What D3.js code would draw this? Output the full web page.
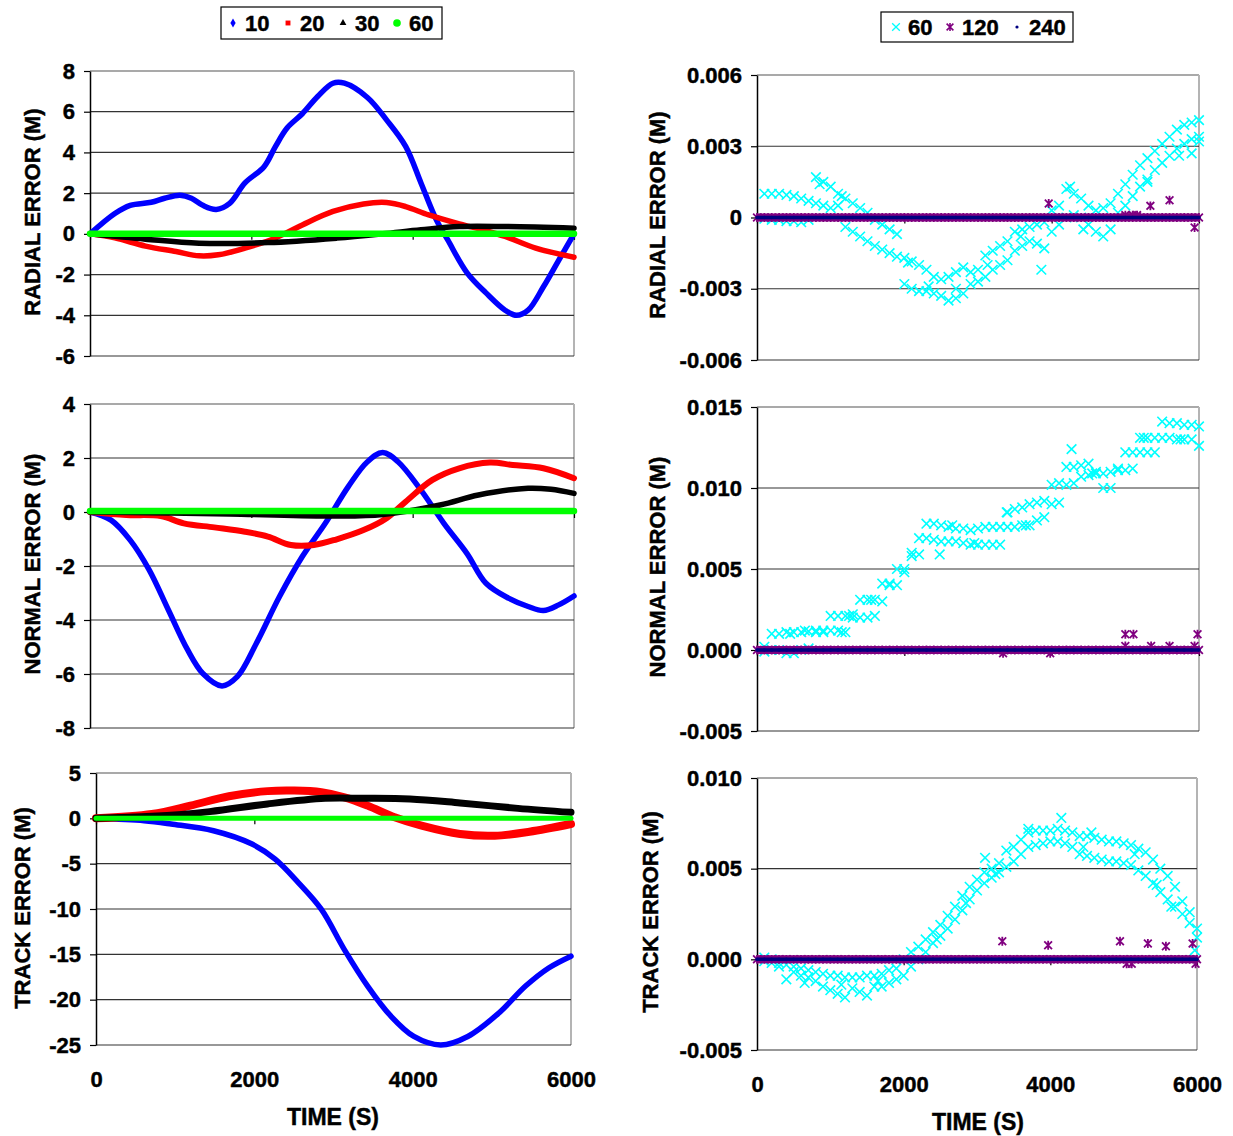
<!DOCTYPE html>
<html><head><meta charset="utf-8">
<script src="https://cdn.jsdelivr.net/npm/d3@7"></script>
<style>
body{margin:0;background:#fff}
svg{display:block}
text{font-family:"Liberation Sans",Arial,sans-serif;font-weight:bold;fill:#000;stroke:#000;stroke-width:0.45px}
</style>
</head><body>
<svg id="c" width="1233" height="1136"></svg>
<script>
// ---------------- DATA ----------------
const timeTicks = [0, 2000, 4000, 6000];
const timeTickLabels = ["0", "2000", "4000", "6000"];
const legendLeft = ["10", "20", "30", "60"];
const legendRight = ["60", "120", "240"];

const radialTicks = [-6, -4, -2, 0, 2, 4, 6, 8];
const radialTickLabels = ["-6", "-4", "-2", "0", "2", "4", "6", "8"];
const normalTicks = [-8, -6, -4, -2, 0, 2, 4];
const normalTickLabels = ["-8", "-6", "-4", "-2", "0", "2", "4"];
const trackTicks = [-25, -20, -15, -10, -5, 0, 5];
const trackTickLabels = ["-25", "-20", "-15", "-10", "-5", "0", "5"];

const radialTicksR = [-0.006, -0.003, 0, 0.003, 0.006];
const radialTickLabelsR = ["-0.006", "-0.003", "0", "0.003", "0.006"];
const normalTicksR = [-0.005, 0, 0.005, 0.010, 0.015];
const normalTickLabelsR = ["-0.005", "0.000", "0.005", "0.010", "0.015"];
const trackTicksR = [-0.005, 0, 0.005, 0.010];
const trackTickLabelsR = ["-0.005", "0.000", "0.005", "0.010"];

// left column: [time (s), error (m)]
const radial10 = [[0,0],[308,1.0],[498,1.4],[759,1.55],[925,1.75],[1115,1.9],[1257,1.75],[1399,1.4],[1565,1.2],[1731,1.5],[1921,2.5],[2158,3.3],[2300,4.3],[2443,5.2],[2632,5.9],[2822,6.75],[3012,7.4],[3154,7.4],[3439,6.7],[3676,5.6],[3913,4.3],[4103,2.5],[4292,0.7],[4435,-0.3],[4672,-1.9],[4909,-2.9],[5146,-3.75],[5289,-4.0],[5431,-3.75],[5621,-2.6],[5810,-1.3],[6000,0.0]];
const radial20 = [[0,0],[308,-0.2],[688,-0.6],[1067,-0.87],[1352,-1.08],[1589,-1.03],[1921,-0.7],[2300,-0.2],[2632,0.44],[3012,1.1],[3391,1.47],[3676,1.54],[3913,1.34],[4198,0.93],[4577,0.49],[4862,0.2],[5146,-0.13],[5526,-0.7],[6000,-1.15]];
const radial30 = [[0,0],[688,-0.26],[1352,-0.46],[2205,-0.43],[3059,-0.21],[3628,0],[4103,0.2],[4577,0.36],[5146,0.36],[6000,0.28]];
const radial60 = [[0,0],[1500,0],[3000,0],[4500,0],[6000,0]];

const normal10 = [[0,0],[261,-0.3],[498,-1.04],[735,-2.15],[972,-3.63],[1209,-5.1],[1399,-5.98],[1636,-6.44],[1826,-6.1],[2063,-4.86],[2348,-3.14],[2632,-1.65],[2917,-0.42],[3202,0.94],[3439,1.86],[3628,2.2],[3818,1.86],[4103,0.81],[4387,-0.42],[4672,-1.53],[4909,-2.64],[5194,-3.2],[5431,-3.5],[5621,-3.65],[5810,-3.44],[6000,-3.11]];
const normal20 = [[0,0],[450,-0.11],[877,-0.15],[1162,-0.42],[1541,-0.57],[1921,-0.73],[2205,-0.91],[2490,-1.22],[2775,-1.22],[3059,-1.01],[3391,-0.67],[3676,-0.23],[3913,0.38],[4245,1.19],[4577,1.62],[4957,1.83],[5241,1.74],[5621,1.62],[6000,1.25]];
const normal30 = [[0,0],[1731,-0.07],[3059,-0.15],[3628,-0.09],[4340,0.26],[4815,0.63],[5431,0.88],[5715,0.84],[6000,0.69]];
const normal60 = [[0,0.04],[1500,0.04],[3000,0.04],[4500,0.04],[6000,0.04]];

const track10 = [[0,0],[608,-0.26],[949,-0.63],[1484,-1.37],[1971,-2.84],[2263,-4.5],[2555,-7.08],[2847,-10.04],[3139,-14.5],[3431,-18.5],[3723,-21.8],[4015,-24.06],[4355,-25],[4696,-24.06],[5085,-21.5],[5426,-18.5],[5718,-16.5],[6000,-15.2]];
const track20 = [[0,0],[706,0.48],[1192,1.4],[1679,2.44],[2166,3.0],[2506,3.06],[2847,2.88],[3139,2.32],[3431,1.4],[3772,0.11],[4112,-0.81],[4599,-1.73],[5037,-1.92],[5475,-1.48],[6000,-0.63]];
const track30 = [[0,0],[706,0.22],[1436,0.74],[2166,1.59],[2896,2.21],[3382,2.21],[3966,2.14],[4599,1.7],[5329,1.1],[6000,0.66]];
const track60 = [[0,0],[1500,0],[3000,0],[4500,0],[6000,0]];

// right column: sample times (s)
const sampleTimes = [0,100,200,300,400,500,600,700,800,900,1000,1100,1200,1300,1400,1500,1600,1700,1800,1900,2000,2100,2200,2300,2400,2500,2600,2700,2800,2900,3000,3100,3200,3300,3400,3500,3600,3700,3800,3900,4000,4100,4200,4300,4400,4500,4600,4700,4800,4900,5000,5100,5200,5300,5400,5500,5600,5700,5800,5900,6000];

// series "60" (cyan) – two interleaved bands of points
const radial60BandA = [null,.0010,.0010,.0010,.00095,.0009,.0008,.0007,.0017,.0015,.0013,.0010,.0008,.0006,.0004,.0002,-.0001,-.0003,-.0005,-.0007,-.0017,-.00185,-.0020,-.0022,-.0025,-.0026,-.0025,-.0023,-.0021,-.0023,-.0022,-.0016,-.0014,-.0012,-.0010,-.0006,-.0005,-.0004,-.0003,-.0002,.0003,.0005,.0012,.0010,.0008,.0005,.0003,.0004,.0006,.0010,.0014,.0018,.0022,.0025,.0028,.0031,.0034,.0037,.0039,.0040,.0041];
const radial60BandB = [null,-.00005,-.0001,-.0001,-.00015,-.00015,-.0002,-.0001,.0006,.0005,.0004,.0005,-.0004,-.0006,-.0008,-.0010,-.0012,-.00135,-.0015,-.00165,-.0028,-.0030,-.0031,-.0031,-.0032,-.0033,-.0035,-.0034,-.0032,-.0028,-.0027,-.0025,-.0022,-.0020,-.0018,-.0014,-.0012,-.0010,-.0011,-.0013,-.0006,-.0003,.0000,.0001,.0000,-.0003,-.0006,-.0008,-.0005,.0002,.0005,.0009,.0013,.0016,.0020,.0023,.0026,.0029,.0031,.0033,.0034];
const radial60Extra = [[3860,-.0022],[5300,.0015],[5730,.0026],[5900,.0027],[6000,.0032],[850,.0014],[1150,.0009],[2330,-.0029],[2700,-.0030],[3130,-.0020],[3580,-.0008],[4250,.0013],[4430,-.0005],[2050,-.0019]];

const normal60BandA = [null,.0002,.0010,.0010,.0011,.0011,.0011,.00115,.0012,.0012,.0021,.0021,.0021,.0022,.0031,.0031,.0031,.0041,.0041,.0050,.0050,.0060,.0069,.0078,.0078,.0077,.0076,.0075,.0075,.0074,.0075,.0076,.0076,.0076,.0085,.0087,.0088,.0090,.0091,.0092,.0102,.0103,.0113,.0113,.0114,.0115,.0110,.0100,.0100,.0112,.0122,.0122,.0122,.0122,.0122,.0141,.0140,.0140,.0139,.0139,.0138];
const normal60BandB = [null,-.0001,.0000,.0000,-.0002,-.0002,.0000,.0001,.0011,.0011,.0012,.0012,.0011,.0020,.0020,.0020,.0021,.0030,.0040,.0040,.0048,.0058,.0059,.0069,.0068,.0067,.0067,.0067,.0066,.0065,.0065,.0065,.0065,.0065,.0076,.0076,.0077,.0077,.0080,.0082,.0090,.0091,.0102,.0103,.0107,.0108,.0109,.0109,.0110,.0111,.0111,.0112,.0131,.0131,.0131,.0131,.0131,.0130,.0130,.0130,.0126];
const normal60Extra = [[4270,.0124],[3390,.0085],[2480,.0059],[1250,.0021],[450,.0010],[650,.0012],[1150,.0011],[1550,.0031],[2650,.0077],[2950,.0066],[3650,.0077],[4550,.0109],[5250,.0131],[5750,.0130]];

const track60BandA = [null,.0001,.0000,-.0002,-.0003,-.0004,-.0005,-.0006,-.0007,-.0008,-.0009,-.0009,-.0010,-.0010,-.0010,-.0009,-.0009,-.0008,-.0006,-.0005,.0000,.0004,.0007,.0011,.0015,.0019,.0024,.0029,.0035,.0040,.0044,.0048,.0050,.0053,.0060,.0062,.0066,.0070,.0071,.0071,.0071,.0072,.0071,.0070,.0068,.0068,.0067,.0066,.0065,.0065,.0064,.0063,.0061,.0059,.0055,.0050,.0046,.0040,.0032,.0026,.0017];
const track60BandB = [null,-.0001,-.0002,-.0004,-.0011,-.0007,-.0009,-.0010,-.0012,-.0015,-.0017,-.0019,-.0021,-.0016,-.0018,-.0020,-.0015,-.0015,-.0013,-.0011,-.0009,-.0004,.0000,.0004,.0009,.0013,.0017,.0022,.0027,.0033,.0038,.0042,.0045,.0048,.0051,.0054,.0058,.0062,.0063,.0064,.0065,.0065,.0064,.0062,.0058,.0057,.0056,.0055,.0054,.0054,.0053,.0052,.0049,.0046,.0042,.0037,.0033,.0029,.0025,.0020,.0012];
const track60Extra = [[4150,.0078],[3110,.0056],[5970,.0005],[3700,.0072],[4560,.0070],[650,-.0013],[1150,-.0014],[1650,-.0012],[2450,.0011],[2850,.0031],[3250,.0047],[4450,.0062],[5150,.0058],[5450,.0041],[5650,.0029]];

// series "120" and "240": at zero along the whole record, plus a few off-zero points for "120"
const zeroValues = [0,0,0,0,0,0,0,0,0,0,0,0,0,0,0,0,0,0,0,0,0,0,0,0,0,0,0,0,0,0,0,0,0,0,0,0,0,0,0,0,0,0,0,0,0,0,0,0,0,0,0,0,0,0,0,0,0,0,0,0,0];
const radial120Extra = [[3960,.00059],[5000,.0001],[5100,.0001],[5160,.0001],[5340,.00049],[5600,.00073],[5940,-.00042]];
const normal120Extra = [[5000,.00097],[5110,.00097],[5980,.00097],[3340,-.0002],[3980,-.0002],[5000,.00025],[5350,.00025],[5600,.00025],[5940,.00025]];
const track120Extra = [[3345,.0010],[3970,.00078],[4950,.0010],[5330,.00087],[5576,.00072],[5940,.00087],[5040,-.00024],[5110,-.00024],[5980,-.00024]];

// ---------------- DRAWING ----------------
const svg = d3.select("#c");
const colors = {s10:"#0000ff", s20:"#ff0000", s30:"#000000", s60:"#00ff00", c60:"#00ffff", c120:"#800080", c240:"#000080"};
const FS = 22;

const starType = {draw(ctx, size){ const r = Math.sqrt(size)/2;
  ctx.moveTo(-r,-r); ctx.lineTo(r,r); ctx.moveTo(-r,r); ctx.lineTo(r,-r); ctx.moveTo(0,-r*1.15); ctx.lineTo(0,r*1.15);} };

function panel(cfg){
  const g = svg.append("g");
  const x = d3.scaleLinear().domain([0,6000]).range([cfg.x0,cfg.x1]);
  const y = d3.scaleLinear().domain([cfg.ticks[0], cfg.ticks[cfg.ticks.length-1]]).range([cfg.y1,cfg.y0]);
  g.append("line").attr("x1",cfg.x0).attr("x2",cfg.x1).attr("y1",cfg.y0).attr("y2",cfg.y0).attr("stroke","#8c8c8c").attr("stroke-width",1.5);
  g.append("line").attr("x1",cfg.x1).attr("x2",cfg.x1).attr("y1",cfg.y0).attr("y2",cfg.y1).attr("stroke","#b4b4b4").attr("stroke-width",2);
  g.selectAll("line.grid").data(cfg.ticks.slice(0,-1)).join("line").attr("class","grid")
    .attr("x1",cfg.x0).attr("x2",cfg.x1).attr("y1",d=>y(d)).attr("y2",d=>y(d))
    .attr("stroke", "#333").attr("stroke-width",1.2);
  const xa = g.append("g").attr("transform",`translate(0,${y(0)})`)
    .call(d3.axisBottom(x).tickValues(timeTicks).tickFormat("").tickSize(6).tickSizeOuter(0));
  xa.select(".domain").attr("stroke","#000").attr("stroke-width",1.2);
  xa.selectAll(".tick line").attr("stroke","#000").attr("stroke-width",1.2);
  const ya = g.append("g").attr("transform",`translate(${cfg.x0},0)`)
    .call(d3.axisLeft(y).tickValues(cfg.ticks).tickFormat((d,i)=>cfg.labels[i]).tickSize(6).tickSizeOuter(0).tickPadding(9));
  ya.select(".domain").attr("stroke","#000").attr("stroke-width",1.5);
  ya.selectAll(".tick line").attr("stroke","#000").attr("stroke-width",1.2);
  ya.selectAll("text").attr("font-size",FS).attr("font-family","Liberation Sans, Arial, sans-serif").attr("font-weight","bold");
  g.append("text").attr("transform",`translate(${cfg.titleX},${cfg.titleY}) rotate(-90)`)
    .attr("text-anchor","middle").attr("dominant-baseline","central").attr("font-size",FS).text(cfg.title);
  if (cfg.xLabels){
    const xb = g.append("g").attr("transform",`translate(0,${cfg.y1})`)
      .call(d3.axisBottom(x).tickValues(timeTicks).tickFormat((d,i)=>timeTickLabels[i]).tickSize(0).tickPadding(26));
    xb.select(".domain").remove();
    xb.selectAll("text").attr("font-size",FS).attr("font-family","Liberation Sans, Arial, sans-serif").attr("font-weight","bold");
    g.append("text").attr("x",cfg.xTitleX).attr("y",cfg.xTitleY).attr("text-anchor","middle").attr("dominant-baseline","central").attr("font-size",23).text("TIME (S)");
  }
  return {g,x,y};
}

function lines(p, series){
  const line = d3.line().x(d=>p.x(d[0])).y(d=>p.y(d[1])).curve(d3.curveCatmullRom.alpha(0.5));
  series.forEach(s=>{
    p.g.append("path").datum(s.data).attr("d",line).attr("fill","none")
      .attr("stroke",s.color).attr("stroke-width",s.w).attr("stroke-linecap","round").attr("stroke-linejoin","round");
  });
}

function scatter(p, bandA, bandB, extra60, extra120){
  const pts = [];
  sampleTimes.forEach((t,i)=>{ if(bandA[i]!==null) pts.push([t,bandA[i]]); if(bandB[i]!==null) pts.push([t,bandB[i]]); });
  extra60.forEach(d=>pts.push(d));
  const sx = d3.symbol(d3.symbolTimes, 62);
  p.g.append("g").selectAll("path").data(pts).join("path")
    .attr("transform",d=>`translate(${p.x(d[0])},${p.y(d[1])})`).attr("d",sx)
    .attr("fill","none").attr("stroke",colors.c60).attr("stroke-width",1.6);
  const base = sampleTimes.map((t,i)=>[t,zeroValues[i]]);
  const zl = d3.line().x(d=>p.x(d[0])).y(d=>p.y(d[1]));
  p.g.append("path").datum(base).attr("d",zl).attr("stroke",colors.c120).attr("stroke-width",8).attr("fill","none");
  const st = d3.symbol(starType, 60);
  p.g.append("g").selectAll("path").data(base.concat(extra120)).join("path")
    .attr("transform",d=>`translate(${p.x(d[0])},${p.y(d[1])})`).attr("d",st)
    .attr("fill","none").attr("stroke",colors.c120).attr("stroke-width",1.8);
  p.g.append("path").datum(base).attr("d",zl).attr("stroke",colors.c240).attr("stroke-width",3.5).attr("fill","none");
  p.g.append("g").selectAll("circle").data(base).join("circle")
    .attr("cx",d=>p.x(d[0])).attr("cy",d=>p.y(d[1])).attr("r",1.8).attr("fill",colors.c240);
}

const p1 = panel({x0:90,x1:574,y0:71,y1:356,ticks:radialTicks,labels:radialTickLabels,title:"RADIAL ERROR (M)",titleX:32,titleY:212});
lines(p1,[{data:radial10,color:colors.s10,w:5.5},{data:radial20,color:colors.s20,w:5.5},{data:radial30,color:colors.s30,w:5.5},{data:radial60,color:colors.s60,w:6.5}]);
const p2 = panel({x0:90,x1:574,y0:404,y1:728,ticks:normalTicks,labels:normalTickLabels,title:"NORMAL ERROR (M)",titleX:32,titleY:564});
lines(p2,[{data:normal10,color:colors.s10,w:5.5},{data:normal20,color:colors.s20,w:6},{data:normal30,color:colors.s30,w:5.5},{data:normal60,color:colors.s60,w:6.5}]);
const p3 = panel({x0:96,x1:571,y0:773,y1:1045,ticks:trackTicks,labels:trackTickLabels,title:"TRACK ERROR (M)",titleX:22,titleY:908,xLabels:true,xTitleX:333,xTitleY:1117});
lines(p3,[{data:track10,color:colors.s10,w:5.5},{data:track20,color:colors.s20,w:8},{data:track30,color:colors.s30,w:7},{data:track60,color:colors.s60,w:5}]);

const p4 = panel({x0:757,x1:1199,y0:75,y1:360,ticks:radialTicksR,labels:radialTickLabelsR,title:"RADIAL ERROR (M)",titleX:657,titleY:215});
scatter(p4, radial60BandA, radial60BandB, radial60Extra, radial120Extra);
const p5 = panel({x0:757,x1:1199,y0:407,y1:731,ticks:normalTicksR,labels:normalTickLabelsR,title:"NORMAL ERROR (M)",titleX:657,titleY:567});
scatter(p5, normal60BandA, normal60BandB, normal60Extra, normal120Extra);
const p6 = panel({x0:757,x1:1197,y0:778,y1:1050,ticks:trackTicksR,labels:trackTickLabelsR,title:"TRACK ERROR (M)",titleX:650,titleY:912,xLabels:true,xTitleX:978,xTitleY:1122});
scatter(p6, track60BandA, track60BandB, track60Extra, track120Extra);

function legendBox(x,y,w,h){ svg.append("rect").attr("x",x).attr("y",y).attr("width",w).attr("height",h).attr("fill","#fff").attr("stroke","#000").attr("stroke-width",1.2); }
legendBox(221,7,221,32);
const ll = svg.append("g");
const leftSyms = [d3.symbolDiamond, d3.symbolSquare, d3.symbolTriangle, d3.symbolCircle];
const leftSizes = [24, 24, 20, 46];
const leftCols = [colors.s10, colors.s20, colors.s30, colors.s60];
const leftX = [233, 288, 343, 397];
legendLeft.forEach((lab,i)=>{
  ll.append("path").attr("transform",`translate(${leftX[i]},23)`).attr("d",d3.symbol(leftSyms[i],leftSizes[i])).attr("fill",leftCols[i]);
  ll.append("text").attr("x",leftX[i]+12).attr("y",23).attr("dominant-baseline","central").attr("font-size",FS).text(lab);
});
legendBox(881,12,192,30);
const lr = svg.append("g");
const rightX = [896, 950, 1017];
lr.append("path").attr("transform",`translate(${rightX[0]},27)`).attr("d",d3.symbol(d3.symbolTimes,40)).attr("fill","none").attr("stroke",colors.c60).attr("stroke-width",1.3);
lr.append("path").attr("transform",`translate(${rightX[1]},27)`).attr("d",d3.symbol(starType,46)).attr("fill","none").attr("stroke",colors.c120).attr("stroke-width",1.6);
lr.append("circle").attr("cx",rightX[2]).attr("cy",27).attr("r",1.6).attr("fill",colors.c240);
legendRight.forEach((lab,i)=>{
  lr.append("text").attr("x",rightX[i]+12).attr("y",27).attr("dominant-baseline","central").attr("font-size",FS).text(lab);
});
</script>
</body></html>
